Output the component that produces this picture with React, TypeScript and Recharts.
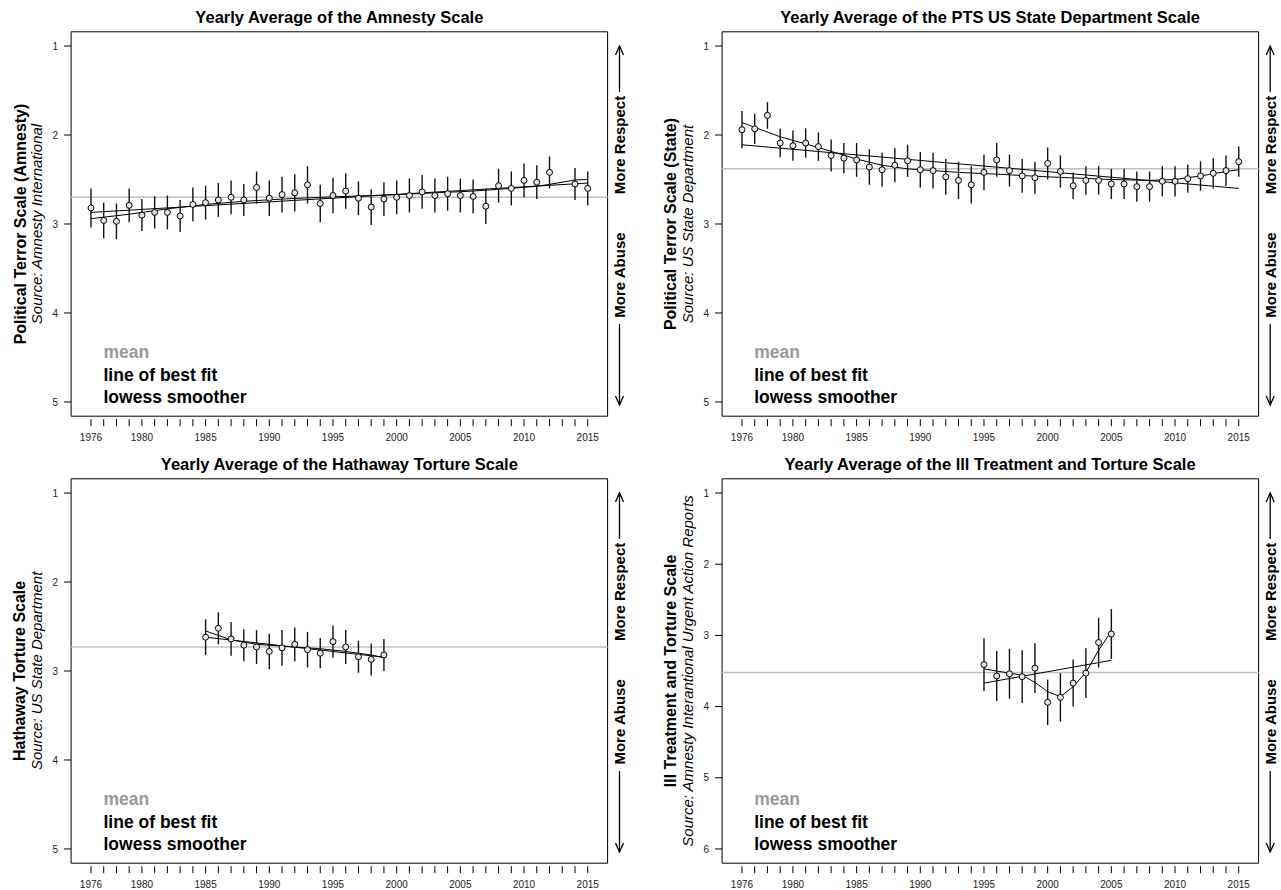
import React from 'react';
import {
  ComposedChart,
  XAxis,
  YAxis,
  Scatter,
  Line,
  ErrorBar,
  ReferenceLine,
  ReferenceArea,
} from 'recharts';

// ── shared axis values ──
const tickYears = [
  1976, 1977, 1978, 1979, 1980, 1981, 1982, 1983, 1984, 1985, 1986, 1987, 1988, 1989,
  1990, 1991, 1992, 1993, 1994, 1995, 1996, 1997, 1998, 1999, 2000, 2001, 2002, 2003,
  2004, 2005, 2006, 2007, 2008, 2009, 2010, 2011, 2012, 2013, 2014, 2015,
];
const labelYears = [1976, 1980, 1985, 1990, 1995, 2000, 2005, 2010, 2015];
const ticks5 = [1, 2, 3, 4, 5];
const ticks6 = [1, 2, 3, 4, 5, 6];

// ── Amnesty ──
const amnestyYears = [
  1976, 1977, 1978, 1979, 1980, 1981, 1982, 1983, 1984, 1985, 1986, 1987, 1988, 1989,
  1990, 1991, 1992, 1993, 1994, 1995, 1996, 1997, 1998, 1999, 2000, 2001, 2002, 2003,
  2004, 2005, 2006, 2007, 2008, 2009, 2010, 2011, 2012, 2014, 2015,
];
const amnestyAvg = [
  2.82, 2.96, 2.97, 2.79, 2.9, 2.87, 2.87, 2.91, 2.78, 2.76, 2.73, 2.7, 2.73, 2.59,
  2.71, 2.67, 2.65, 2.56, 2.77, 2.68, 2.63, 2.71, 2.81, 2.72, 2.7, 2.68, 2.64, 2.68,
  2.66, 2.68, 2.69, 2.8, 2.57, 2.6, 2.51, 2.53, 2.42, 2.55, 2.6,
];
const amnestyErr = [
  0.22, 0.2, 0.2, 0.19, 0.18, 0.18, 0.19, 0.18, 0.19, 0.19, 0.19, 0.19, 0.18, 0.18,
  0.2, 0.2, 0.21, 0.21, 0.21, 0.2, 0.2, 0.19, 0.2, 0.19, 0.19, 0.19, 0.19, 0.19,
  0.19, 0.19, 0.19, 0.2, 0.19, 0.19, 0.19, 0.19, 0.18, 0.18, 0.19,
];
const amnestyMean = 2.7;
const amnestyFitYears = [1976, 2015];
const amnestyFit = [2.87, 2.54];
const amnestyLowessYears = [1976, 1979, 1982, 1985, 1988, 1991, 1994, 1997, 2000, 2003, 2006, 2009, 2011, 2012, 2014, 2015];
const amnestyLowess = [2.94, 2.89, 2.83, 2.78, 2.745, 2.72, 2.7, 2.685, 2.67, 2.65, 2.63, 2.6, 2.575, 2.555, 2.505, 2.5];

// ── PTS State Department ──
const stateYears = tickYears;
const stateAvg = [
  1.94, 1.93, 1.78, 2.09, 2.12, 2.09, 2.13, 2.23, 2.26, 2.28, 2.36, 2.39, 2.34, 2.29,
  2.39, 2.4, 2.47, 2.51, 2.56, 2.42, 2.28, 2.4, 2.46, 2.48, 2.32, 2.41, 2.57, 2.51,
  2.51, 2.55, 2.55, 2.58, 2.58, 2.52, 2.52, 2.49, 2.46, 2.43, 2.4, 2.3,
];
const stateErr = [
  0.21, 0.17, 0.15, 0.16, 0.17, 0.165, 0.16, 0.18, 0.17, 0.19, 0.2, 0.19, 0.19, 0.18,
  0.2, 0.2, 0.2, 0.21, 0.21, 0.2, 0.19, 0.18, 0.19, 0.18, 0.18, 0.18, 0.15, 0.16,
  0.16, 0.17, 0.17, 0.17, 0.17, 0.17, 0.17, 0.16, 0.165, 0.17, 0.17, 0.17,
];
const stateMean = 2.38;
const stateFitYears = [1976, 2015];
const stateFit = [2.11, 2.6];
const stateLowessYears = [1976, 1979, 1982, 1985, 1987, 1989, 1991, 1993, 1996, 2000, 2005, 2008, 2010, 2012, 2014, 2015];
const stateLowess = [1.86, 2.02, 2.14, 2.27, 2.34, 2.38, 2.4, 2.42, 2.44, 2.47, 2.5, 2.51, 2.5, 2.46, 2.41, 2.39];

// ── Hathaway ──
const hathYears = [1985, 1986, 1987, 1988, 1989, 1990, 1991, 1992, 1993, 1994, 1995, 1996, 1997, 1998, 1999];
const hathAvg = [2.62, 2.52, 2.64, 2.71, 2.73, 2.78, 2.74, 2.7, 2.76, 2.8, 2.67, 2.73, 2.84, 2.87, 2.82];
const hathErr = [0.2, 0.18, 0.19, 0.18, 0.19, 0.2, 0.2, 0.19, 0.2, 0.17, 0.18, 0.19, 0.18, 0.18, 0.18];
const hathMean = 2.73;
const hathFitYears = [1985, 1999];
const hathFit = [2.62, 2.845];
const hathLowessYears = [1985, 1986, 1987, 1989, 1992, 1994, 1996, 1998, 1999];
const hathLowess = [2.55, 2.6, 2.65, 2.7, 2.73, 2.75, 2.78, 2.82, 2.85];

// ── Ill Treatment and Torture ──
const illYears = [1995, 1996, 1997, 1998, 1999, 2000, 2001, 2002, 2003, 2004, 2005];
const illAvg = [3.41, 3.57, 3.54, 3.58, 3.46, 3.94, 3.87, 3.67, 3.53, 3.1, 2.98];
const illErr = [0.37, 0.35, 0.35, 0.37, 0.35, 0.32, 0.34, 0.33, 0.35, 0.35, 0.35];
const illMean = 3.52;
const illFitYears = [1995, 2005];
const illFit = [3.67, 3.35];
const illLowessYears = [1995, 1996, 1997, 1998, 1999, 2000, 2001, 2002, 2003, 2004, 2005];
const illLowess = [3.47, 3.5, 3.53, 3.56, 3.66, 3.79, 3.86, 3.72, 3.52, 3.21, 2.94];

// ── layout ──
const W = 640;
const H = 445;
const BOX = { left: 71.1, right: 607.6, top: 31.8, bottom: 416.2 };
const X_DOMAIN: [number, number] = [1974.44, 2016.56];
const FONT = '"Liberation Sans", Arial, Helvetica, sans-serif';

const rows = (xs: number[], ys: number[], es?: number[]) =>
  xs.map((year, i) => ({ year, v: ys[i], err: es ? es[i] : 0 }));

const panels = [
  {
    title: 'Yearly Average of the Amnesty Scale',
    ylab: 'Political Terror Scale (Amnesty)',
    source: 'Source: Amnesty International',
    domain: [0.84, 5.16] as [number, number],
    ticks: ticks5,
    mean: amnestyMean,
    points: rows(amnestyYears, amnestyAvg, amnestyErr),
    fit: rows(amnestyFitYears, amnestyFit),
    lowess: rows(amnestyLowessYears, amnestyLowess),
    ox: 0,
    oy: 0,
  },
  {
    title: 'Yearly Average of the PTS US State Department Scale',
    ylab: 'Political Terror Scale (State)',
    source: 'Source: US State Department',
    domain: [0.84, 5.16] as [number, number],
    ticks: ticks5,
    mean: stateMean,
    points: rows(stateYears, stateAvg, stateErr),
    fit: rows(stateFitYears, stateFit),
    lowess: rows(stateLowessYears, stateLowess),
    ox: 650.7,
    oy: 0,
  },
  {
    title: 'Yearly Average of the Hathaway Torture Scale',
    ylab: 'Hathaway Torture Scale',
    source: 'Source: US State Department',
    domain: [0.84, 5.16] as [number, number],
    ticks: ticks5,
    mean: hathMean,
    points: rows(hathYears, hathAvg, hathErr),
    fit: rows(hathFitYears, hathFit),
    lowess: rows(hathLowessYears, hathLowess),
    ox: 0,
    oy: 446.9,
  },
  {
    title: 'Yearly Average of the Ill Treatment and Torture Scale',
    ylab: 'Ill Treatment and Torture Scale',
    source: 'Source: Amnesty Interantional Urgent Action Reports',
    domain: [0.8, 6.2] as [number, number],
    ticks: ticks6,
    mean: illMean,
    points: rows(illYears, illAvg, illErr),
    fit: rows(illFitYears, illFit),
    lowess: rows(illLowessYears, illLowess),
    ox: 650.7,
    oy: 446.9,
  },
];

function XTick(props: any) {
  const { x, y, payload } = props;
  const yr = payload.value;
  return (
    <g>
      <line x1={x} x2={x} y1={y + 3} y2={y + 10} stroke="#000" strokeWidth={1} />
      {labelYears.includes(yr) && (
        <text x={x} y={y + 25} textAnchor="middle" fontSize={10} fill="#222">
          {yr}
        </text>
      )}
    </g>
  );
}

const Dot = (props: any) => (
  <circle cx={props.cx} cy={props.cy} r={3} fill="#e4e4e4" stroke="#000" strokeWidth={1} />
);

function Panel({ p }: { p: (typeof panels)[number] }) {
  return (
    <div style={{ position: 'absolute', left: p.ox, top: p.oy, width: W, height: H }}>
      <ComposedChart
        width={W}
        height={H}
        margin={{ top: BOX.top, right: W - BOX.right, bottom: H - BOX.bottom - 20, left: BOX.left - 30 }}
      >
        <XAxis
          type="number"
          dataKey="year"
          domain={X_DOMAIN}
          allowDataOverflow
          ticks={tickYears}
          interval={0}
          tick={<XTick />}
          tickLine={false}
          axisLine={false}
          tickSize={0}
          tickMargin={0}
          height={20}
        />
        <YAxis
          type="number"
          dataKey="v"
          domain={p.domain}
          allowDataOverflow
          reversed
          ticks={p.ticks}
          interval={0}
          axisLine={false}
          tickLine={{ stroke: '#000' }}
          tickSize={7}
          tickMargin={6}
          width={30}
          tick={{ fontSize: 10, fill: '#222' }}
        />
        <ReferenceLine y={p.mean} stroke="#c0c0c0" strokeWidth={1.5} />
        <ReferenceArea
          x1={X_DOMAIN[0]}
          x2={X_DOMAIN[1]}
          y1={p.domain[0]}
          y2={p.domain[1]}
          fill="none"
          fillOpacity={0}
          stroke="#000"
          strokeWidth={1}
          ifOverflow="visible"
        />
        <Line data={p.fit} dataKey="v" type="linear" stroke="#000" strokeWidth={1} dot={false} activeDot={false} isAnimationActive={false} />
        <Line data={p.lowess} dataKey="v" type="linear" stroke="#000" strokeWidth={1} dot={false} activeDot={false} isAnimationActive={false} />
        <Scatter data={p.points} dataKey="v" shape={Dot} isAnimationActive={false}>
          <ErrorBar dataKey="err" direction="y" width={0} stroke="#111" strokeWidth={1.4} isAnimationActive={false} />
        </Scatter>
      </ComposedChart>
    </div>
  );
}

function Arrow({ x, y1, y2 }: { x: number; y1: number; y2: number }) {
  // tip at y2
  const d = y2 < y1 ? 1 : -1;
  return (
    <g stroke="#000" strokeWidth={1.3} fill="none">
      <line x1={x} x2={x} y1={y1} y2={y2} />
      <polyline points={`${x - 4},${y2 + d * 9} ${x},${y2} ${x + 4},${y2 + d * 9}`} />
    </g>
  );
}

function Labels({ p }: { p: (typeof panels)[number] }) {
  const { ox, oy } = p;
  const cx = ox + (BOX.left + BOX.right) / 2;
  const cy = oy + (BOX.top + BOX.bottom) / 2;
  const rx = ox + 619.5;
  return (
    <g>
      <text x={cx} y={oy + 17} textAnchor="middle" dominantBaseline="central" fontSize={16.5} fontWeight="bold">
        {p.title}
      </text>
      <text
        x={ox + 20}
        y={cy}
        textAnchor="middle"
        dominantBaseline="central"
        fontSize={16}
        fontWeight="bold"
        transform={`rotate(-90 ${ox + 20} ${cy})`}
      >
        {p.ylab}
      </text>
      <text
        x={ox + 36.5}
        y={cy}
        textAnchor="middle"
        dominantBaseline="central"
        fontSize={15}
        fontStyle="italic"
        transform={`rotate(-90 ${ox + 36.5} ${cy})`}
      >
        {p.source}
      </text>
      <text x={ox + 103.5} y={oy + 352} dominantBaseline="central" fontSize={17.5} fontWeight="bold" fill="#999">
        mean
      </text>
      <text x={ox + 103.5} y={oy + 375} dominantBaseline="central" fontSize={17.5} fontWeight="bold">
        line of best fit
      </text>
      <text x={ox + 103.5} y={oy + 397} dominantBaseline="central" fontSize={17.5} fontWeight="bold">
        lowess smoother
      </text>
      <text
        x={rx}
        y={oy + 145}
        textAnchor="middle"
        dominantBaseline="central"
        fontSize={15}
        fontWeight="bold"
        transform={`rotate(-90 ${rx} ${oy + 145})`}
      >
        More Respect
      </text>
      <text
        x={rx}
        y={oy + 275}
        textAnchor="middle"
        dominantBaseline="central"
        fontSize={15}
        fontWeight="bold"
        transform={`rotate(-90 ${rx} ${oy + 275})`}
      >
        More Abuse
      </text>
      <Arrow x={rx} y1={oy + 92} y2={oy + 46} />
      <Arrow x={rx} y1={oy + 324} y2={oy + 405} />
    </g>
  );
}

export default function App() {
  return (
    <div
      style={{
        position: 'absolute',
        left: 0,
        top: 0,
        width: 1281,
        height: 890,
        background: '#fff',
        fontFamily: FONT,
      }}
    >
      {panels.map((p) => (
        <Panel key={p.title} p={p} />
      ))}
      <svg
        width={1281}
        height={890}
        style={{ position: 'absolute', left: 0, top: 0, pointerEvents: 'none', fontFamily: FONT }}
      >
        {panels.map((p) => (
          <Labels key={p.title} p={p} />
        ))}
      </svg>
    </div>
  );
}
